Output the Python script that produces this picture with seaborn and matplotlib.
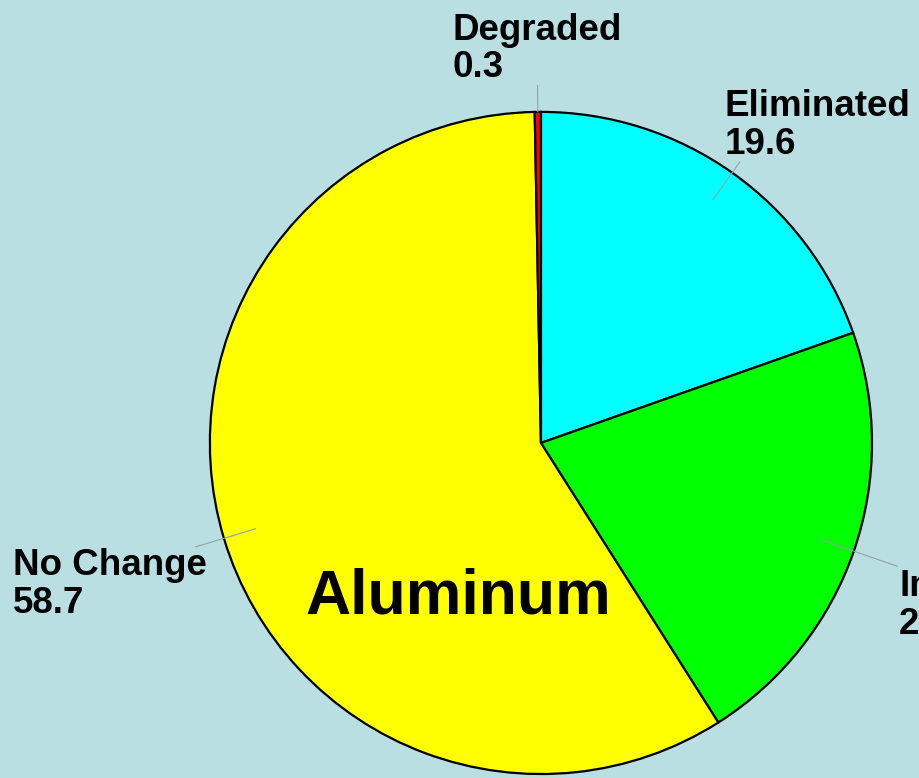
import numpy as np
import seaborn as sns
import matplotlib.pyplot as plt

categories = ['Eliminated', 'Improved', 'No Change', 'Degraded']
values = [19.6, 21.4, 58.7, 0.3]
colors = ['#00FFFF', '#00FF00', '#FFFF00', '#FF0000']
center_label = 'Aluminum'

bg = '#B9DFE3'
sns.set_theme(style='white')
plt.rcParams['font.family'] = ['Liberation Sans', 'DejaVu Sans']

fig = plt.figure(figsize=(9.2, 7.78), dpi=100, facecolor=bg)
ax = fig.add_axes([0, 0, 1, 1])
ax.set_facecolor(bg)

wedges, _ = ax.pie(values, colors=colors, startangle=90, counterclock=False,
                   wedgeprops={'edgecolor': 'black', 'linewidth': 1.6})
ax.set_xlim(-1.634, 1.145)
ax.set_ylim(-1.012, 1.338)
ax.set_aspect('auto')
ax.axis('off')

# leader line inner/outer radius and text offset (points) per slice
leaders = {
    'Eliminated': (0.9, 1.04, (-11, 0), 'left', 'bottom'),
    'Improved': (0.9, 1.14, (1, -2), 'left', 'top'),
    'No Change': (0.9, 1.09, (8, -1), 'right', 'top'),
    'Degraded': (1.0, 1.08, (0, 0), 'center', 'bottom'),
}

for w, name, v in zip(wedges, categories, values):
    ang = np.deg2rad((w.theta1 + w.theta2) / 2)
    r0, r1, off, ha, va = leaders[name]
    x0, y0 = r0 * np.cos(ang), r0 * np.sin(ang)
    x1, y1 = r1 * np.cos(ang), r1 * np.sin(ang)
    ax.plot([x0, x1], [y0, y1], color='#8FA3AA', lw=0.8, zorder=3)
    ax.annotate(f'{name}\n{v}', xy=(x1, y1), xytext=off, textcoords='offset points',
                ha=ha, va=va, multialignment='left', fontsize=26.5,
                fontweight='bold', color='black', linespacing=1.1,
                annotation_clip=False)

ax.text(-0.25, -0.465, center_label, ha='center', va='center',
        fontsize=45, fontweight='bold', color='black')

fig.savefig('out.png', dpi=100, facecolor=bg)
